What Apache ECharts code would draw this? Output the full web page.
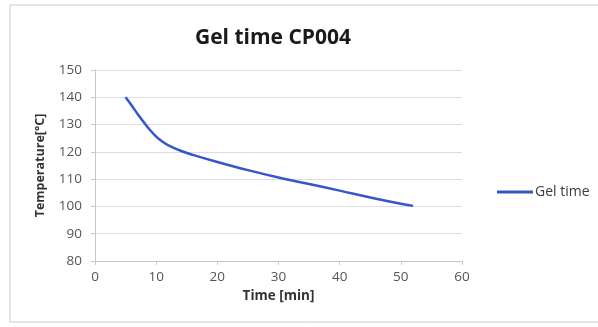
<!DOCTYPE html>
<html>
<head>
<meta charset="utf-8">
<script src="https://cdn.jsdelivr.net/npm/echarts@6/dist/echarts.min.js"></script>
<style>
  html, body { margin: 0; padding: 0; background: #ffffff; }
  #chart { width: 598px; height: 327px; }
</style>
</head>
<body>
<div id="chart"></div>
<script>
// Gel time measurements: time in minutes vs. temperature in °C
const timeMin = [5, 6, 7, 8, 9, 10, 11, 12, 14, 16, 20, 25, 30, 35, 40, 45, 50, 52];
const temperatureC = [140, 137, 133.8, 130.8, 128, 125.6, 123.8, 122.4, 120.4, 118.9, 116.3, 113.3, 110.6, 108.2, 105.8, 103.3, 101, 100.2];
const seriesName = 'Gel time';
const titleText = 'Gel time CP004';
const xAxisName = 'Time [min]';
const yAxisName = 'Temperature[°C]';

const font = '"Open Sans", "DejaVu Sans", sans-serif';
const chart = echarts.init(document.getElementById('chart'), null, { renderer: 'canvas' });

chart.setOption({
  backgroundColor: '#ffffff',
  animation: false,
  title: {
    text: titleText,
    left: 268, top: 23, textAlign: 'center',
    textStyle: { fontFamily: font, fontWeight: 'bold', fontSize: 21, color: '#1a1a1a' }
  },
  graphic: [{
    type: 'rect',
    shape: { x: 10, y: 5, width: 600, height: 317 },
    style: { fill: 'none', stroke: '#c8c8d4', lineWidth: 1 }
  }],
  legend: {
    data: [seriesName],
    left: 492, top: 180,
    itemWidth: 36, itemHeight: 3, itemGap: 4,
    icon: 'rect',
    textStyle: { fontFamily: font, fontSize: 14, color: '#3a3a3a', padding: [0, 0, 0, -3] }
  },
  grid: { left: 95, right: 136, top: 70, bottom: 66 },
  xAxis: {
    type: 'value', min: 0, max: 60, interval: 10,
    name: xAxisName, nameLocation: 'middle', nameGap: 28,
    nameTextStyle: { fontFamily: font, fontWeight: 'bold', fontSize: 13.5, color: '#333333' },
    axisLine: { show: true, lineStyle: { color: '#c4c4d4' } },
    axisTick: { show: true, length: 4, inside: false, lineStyle: { color: '#c4c4d4' } },
    axisLabel: { fontFamily: font, fontSize: 13.5, color: '#555555', margin: 9 },
    splitLine: { show: false }
  },
  yAxis: {
    type: 'value', min: 80, max: 150, interval: 10,
    name: yAxisName, nameLocation: 'middle', nameGap: 48, nameRotate: 90,
    nameTextStyle: { fontFamily: font, fontWeight: 'bold', fontSize: 12.5, color: '#333333' },
    axisLine: { show: true, lineStyle: { color: '#c4c4d4' } },
    axisTick: { show: true, length: 4, lineStyle: { color: '#c4c4d4' } },
    axisLabel: { fontFamily: font, fontSize: 13.5, color: '#555555', margin: 13 },
    splitLine: { show: true, lineStyle: { color: '#dcdce8', width: 1 } }
  },
  series: [{
    name: seriesName,
    type: 'line',
    data: timeMin.map((t, i) => [t, temperatureC[i]]),
    smooth: 0.4,
    showSymbol: false,
    lineStyle: { color: '#3557c8', width: 2.5 },
    itemStyle: { color: '#3557c8' }
  }]
});
</script>
</body>
</html>
